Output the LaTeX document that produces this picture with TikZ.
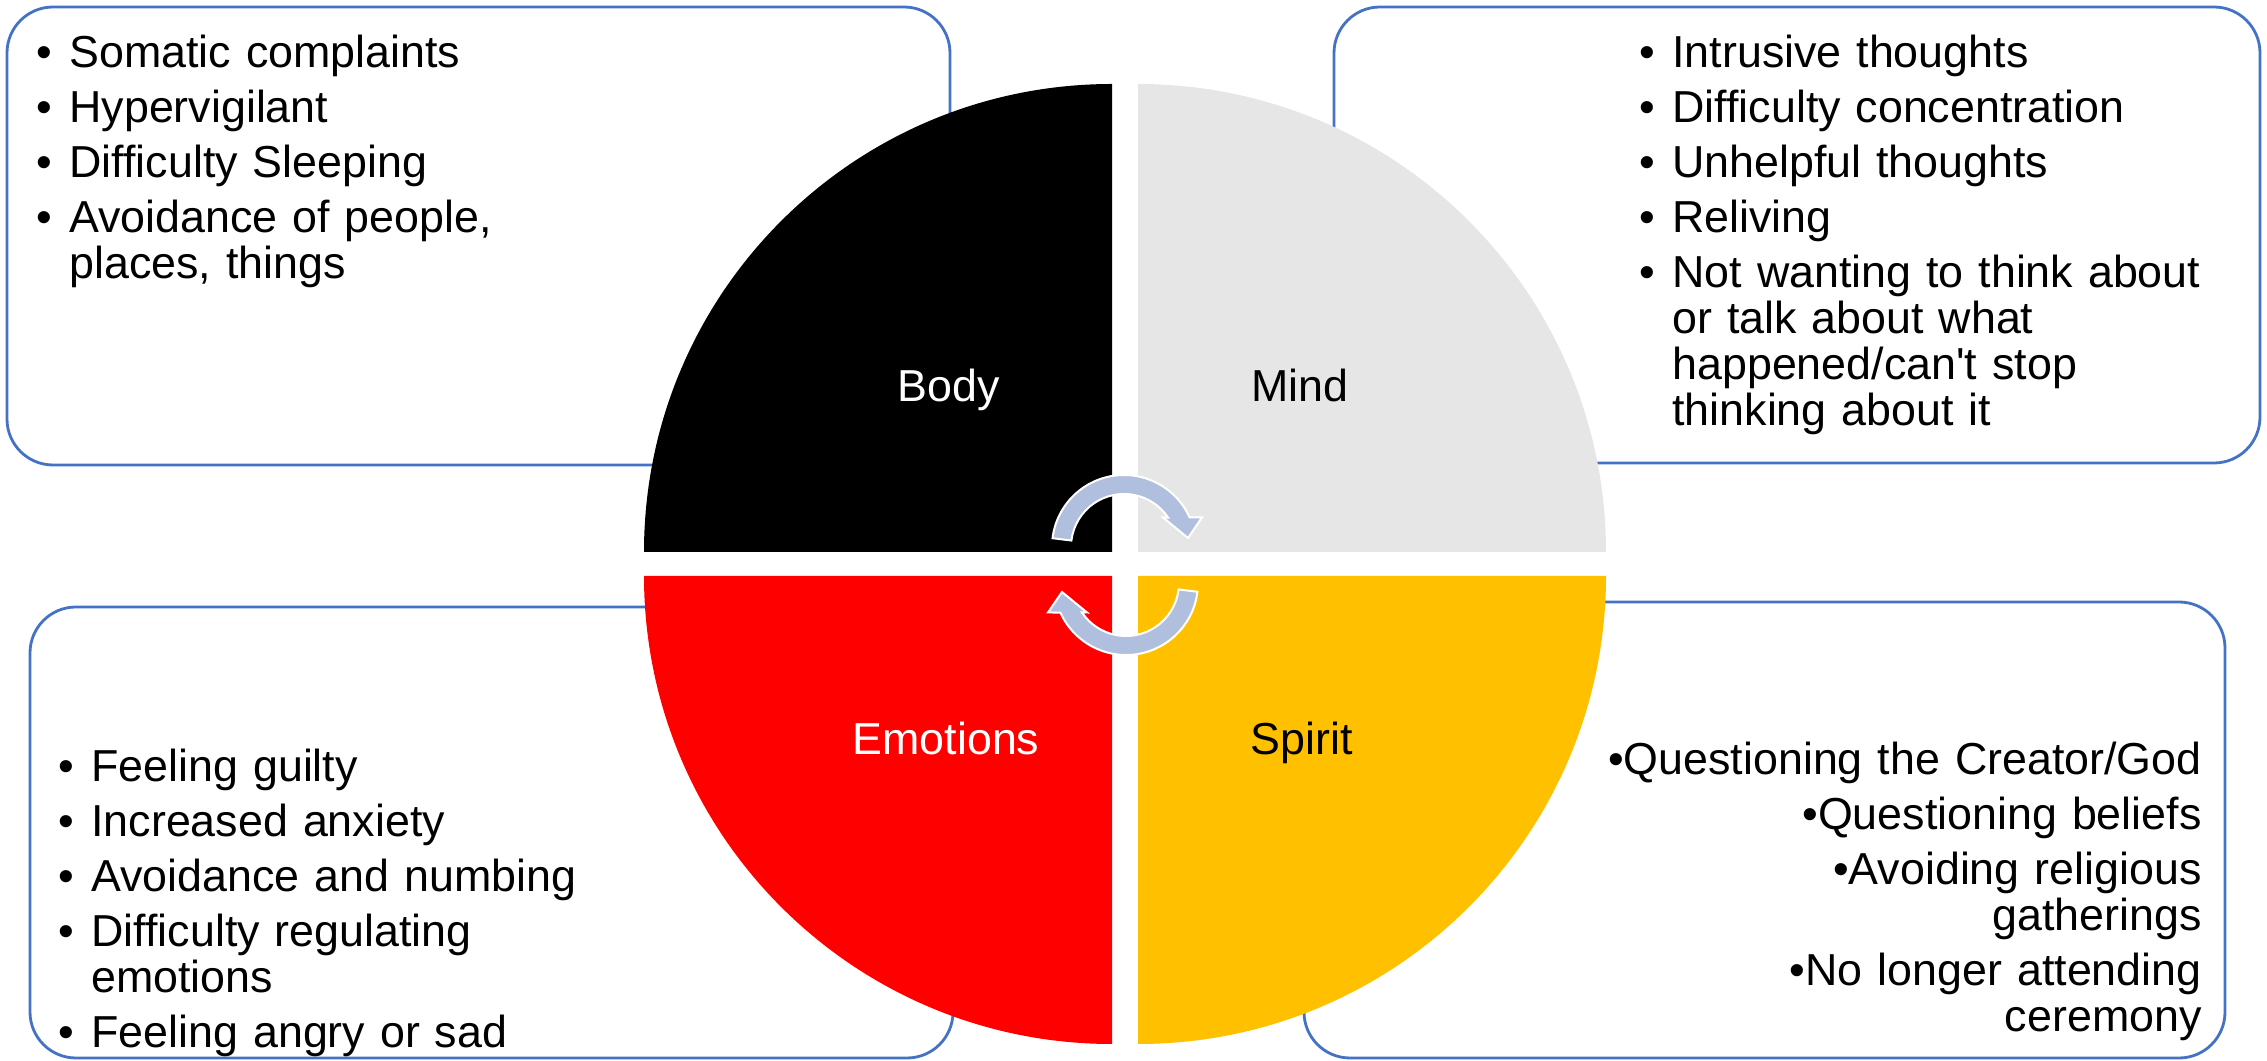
\documentclass[tikz,border=0pt]{standalone}
\usepackage{fontspec}
\setmainfont{Liberation Sans}
\definecolor{boxblue}{HTML}{4472C4}
\definecolor{mindgray}{HTML}{E7E6E6}
\definecolor{spiritgold}{HTML}{FFC000}
\definecolor{arrowblue}{RGB}{177,191,222}
\newcommand\bitem[1]{\hangindent=16.5pt\hangafter=1\noindent\makebox[16.5pt][l]{•}#1\par}
\newcommand\sq{{\XeTeXglyph\XeTeXcharglyph"0027}}
\begin{document}
\begin{tikzpicture}[x=0.5pt,y=0.5pt,
  infobox/.style={draw=boxblue, line width=1.4pt, rounded corners=23pt},
  lst/.style={inner sep=0pt, text width=600pt, align=left, anchor=base west,
    font=\fontsize{22.4pt}{23pt}\selectfont},
  lstr/.style={inner sep=0pt, text width=600pt, align=right, anchor=base east,
    font=\fontsize{22.4pt}{23pt}\selectfont},
  qlabel/.style={inner sep=0pt, anchor=base, font=\fontsize{22.4pt}{23pt}\selectfont},
  cyc/.style={fill=arrowblue, draw=white, line width=1pt}]
\useasboundingbox (0,0) rectangle (2267,1061);
% boxes
\draw[infobox] (7,596) rectangle (950,1054);
\draw[infobox] (1334,598) rectangle (2260,1054);
\draw[infobox] (30,3) rectangle (953,454);
\draw[infobox] (1304,3) rectangle (2225,459);
% quadrants
\fill[black] (1112,509) -- (1112,977) arc[start angle=90,end angle=180,radius=234pt] -- cycle;
\fill[mindgray] (1138,509) -- (1606,509) arc[start angle=0,end angle=90,radius=234pt] -- cycle;
\fill[red] (1112,485) -- (644,485) arc[start angle=180,end angle=270,radius=234pt] -- cycle;
\fill[spiritgold] (1138,485) -- (1138,17) arc[start angle=270,end angle=360,radius=234pt] -- cycle;
% circular arrows
\begin{scope}[shift={(1124,514)}]
\filldraw[cyc] (173:72) arc[start angle=173,end angle=24.2,radius=36pt] -- (78,29.5) -- (64,9) -- (39,29.5) -- (33.8:53) arc[start angle=33.8,end angle=173,radius=26.5pt] -- cycle;
\end{scope}
\begin{scope}[shift={(1126,478)},rotate=180]
\filldraw[cyc] (173:72) arc[start angle=173,end angle=24.2,radius=36pt] -- (78,29.5) -- (64,9) -- (39,29.5) -- (33.8:53) arc[start angle=33.8,end angle=173,radius=26.5pt] -- cycle;
\end{scope}
% quadrant labels
\node[qlabel, text=white] (body) at (949,659) {Body};
\node[qlabel] (mind) at (1300,659) {Mind};
\node[qlabel, text=white] (emotions) at (946,306) {Emotions};
\node[qlabel] (spirit) at (1302,306) {Spirit};
% lists
\node[lst] (bodylist) at (36,993) {\setlength\parskip{4.5pt}%
\bitem{Somatic complaints}
\bitem{Hypervigilant}
\bitem{Difficulty Sleeping}
\bitem{Avoidance of people,\newline places, things}};
\node[lst] (mindlist) at (1639,993) {\setlength\parskip{4.5pt}%
\bitem{Intrusive thoughts}
\bitem{Difficulty concentration}
\bitem{Unhelpful thoughts}
\bitem{Reliving}
\bitem{Not wanting to think about\newline or talk about what\newline happened/can\sq t stop\newline thinking about it}};
\node[lst] (emolist) at (58,279) {\setlength\parskip{4.5pt}%
\bitem{Feeling guilty}
\bitem{Increased anxiety}
\bitem{Avoidance and numbing}
\bitem{Difficulty regulating\newline emotions}
\bitem{Feeling angry or sad}};
\node[lstr] (spiritlist) at (2202,286) {\setlength\parskip{4.5pt}%
•Questioning the Creator/God\par
•Questioning beliefs\par
•Avoiding religious\\gatherings\par
•No longer attending\\ceremony\par};
\end{tikzpicture}
\end{document}
